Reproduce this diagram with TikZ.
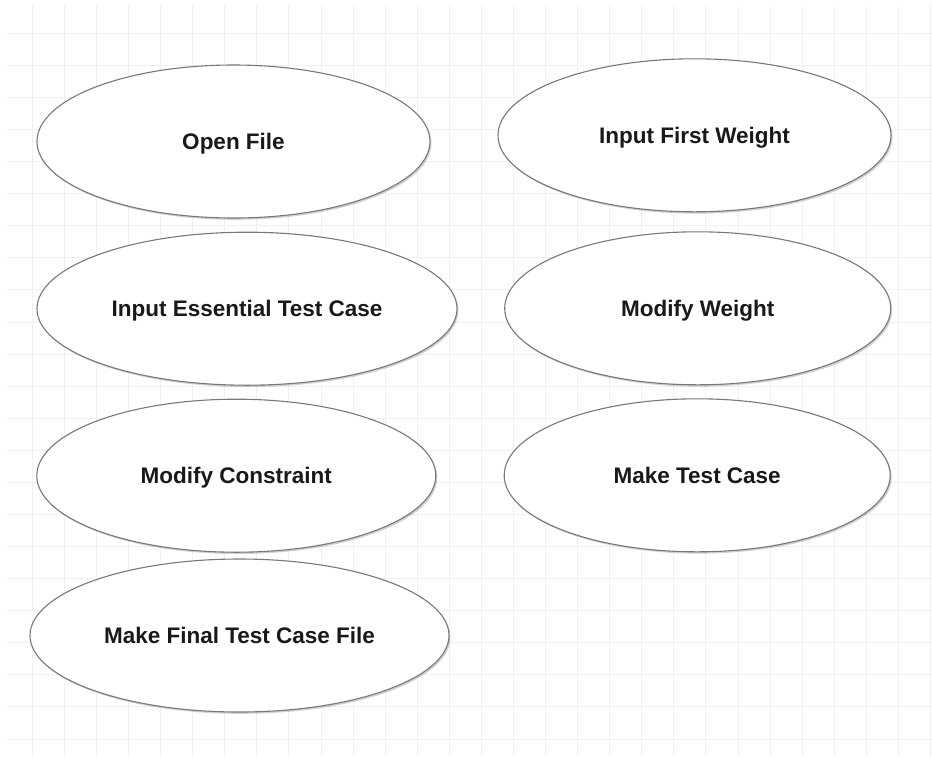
\documentclass[tikz,border=0pt]{standalone}
\usepackage{fontspec}
\setmainfont{Liberation Sans}
\usetikzlibrary{shapes.geometric,shadows}
\definecolor{gridgray}{rgb}{0.94,0.94,0.94}
\definecolor{edgegray}{rgb}{0.47,0.47,0.47}

\begin{document}
\begin{tikzpicture}[x=1pt, y=-1pt,
	gridline/.style={draw=gridgray, line width=1pt},
	usecase/.style={ellipse, draw=edgegray, line width=1.1pt, fill=white,
		inner sep=0pt, minimum height=153pt, text height=16.1pt, text depth=0pt,
		font=\fontsize{22.5}{25}\selectfont\bfseries, text=black!90,
		drop shadow={shadow xshift=1.5pt, shadow yshift=-1.8pt, opacity=0.18, fill=black}}]
	\useasboundingbox[fill=white] (0,0) rectangle (933,756);
	\foreach \k in {0,...,28}{
		\draw[gridline] ({32.3+32.08*\k},5) -- ({32.3+32.08*\k},756);
	}
	\foreach \k in {0,...,22}{
		\draw[gridline] (7,{33.3+32.08*\k}) -- (933,{33.3+32.08*\k});
	}
	% left column
	\node[usecase, minimum width=393pt] (openfile) at (233.5,141.5) {Open File};
	\node[usecase, minimum width=420pt] (essential) at (247,308.7) {Input Essential Test Case};
	\node[usecase, minimum width=399pt] (modconstraint) at (236.3,475.7) {Modify Constraint};
	\node[usecase, minimum width=419pt] (finalfile) at (239.5,635.5) {Make Final Test Case File};
	% right column
	\node[usecase, minimum width=393pt] (firstweight) at (694.5,135.3) {Input First Weight};
	\node[usecase, minimum width=386pt] (modweight) at (697.7,308.3) {Modify Weight};
	\node[usecase, minimum width=386pt] (maketest) at (697.2,475.3) {Make Test Case};
\end{tikzpicture}
\end{document}
